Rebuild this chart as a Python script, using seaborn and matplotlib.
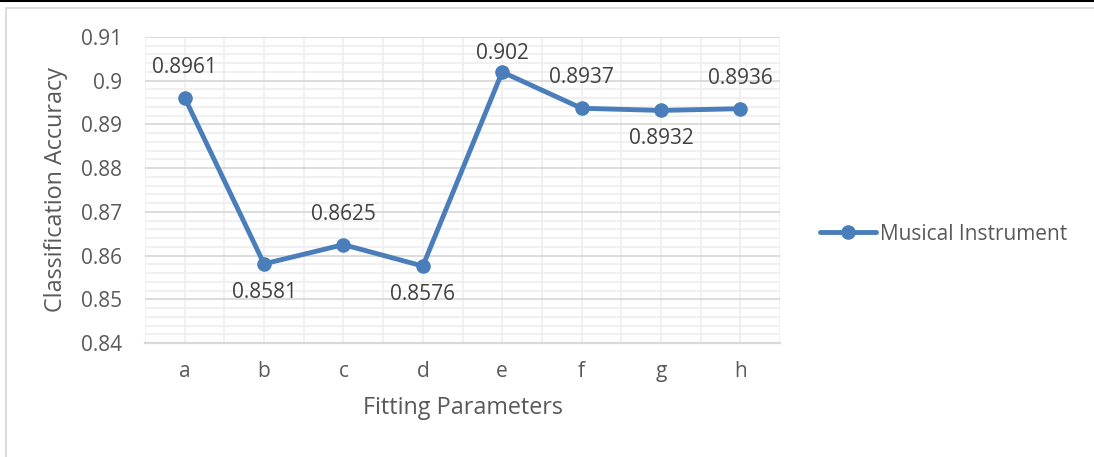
import matplotlib
matplotlib.use("Agg")
import matplotlib.pyplot as plt
import seaborn as sns
import pandas as pd
from matplotlib.lines import Line2D
from matplotlib.ticker import MultipleLocator

# Classification accuracy for each fitting-parameter setting
params = ["a", "b", "c", "d", "e", "f", "g", "h"]
accuracy = [0.8961, 0.8581, 0.8625, 0.8576, 0.902, 0.8937, 0.8932, 0.8936]
series_name = "Musical Instrument"

# where each value label sits relative to its point
label_side = ["above", "below", "above", "below", "above", "above", "below", "above"]

df = pd.DataFrame({"param": params, "accuracy": accuracy, "series": series_name})

sns.set_theme(style="white")
plt.rcParams["font.family"] = ["Open Sans", "DejaVu Sans"]

LINE_COLOR = "#4a7ebb"
TEXT_COLOR = "#595959"
FS = 15

fig = plt.figure(figsize=(10.94, 4.57), dpi=100)
ax = fig.add_axes([145 / 1094, 1 - 343 / 457, 635 / 1094, 306 / 457])

sns.lineplot(data=df, x="param", y="accuracy", ax=ax, color=LINE_COLOR,
             linewidth=3.5, marker="o", markersize=10.5, markeredgewidth=0,
             legend=False, sort=False, zorder=3)

ax.set_xlim(-0.5, len(params) - 0.5)
ax.set_ylim(0.84, 0.91)
ax.yaxis.set_major_locator(MultipleLocator(0.01))
ax.yaxis.set_minor_locator(MultipleLocator(0.002))
ax.xaxis.set_minor_locator(MultipleLocator(0.5))
ax.set_yticks([0.84, 0.85, 0.86, 0.87, 0.88, 0.89, 0.9, 0.91])
ax.set_yticklabels(["0.84", "0.85", "0.86", "0.87", "0.88", "0.89", "0.9", "0.91"])

# Excel-style gridlines
ax.grid(which="minor", axis="both", color="#efefef", linewidth=1.3, zorder=0)
ax.grid(which="major", axis="y", color="#d9d9d9", linewidth=1.3, zorder=1)
ax.grid(which="major", axis="x", color="#efefef", linewidth=1.3, zorder=0)
ax.set_axisbelow(True)

for side in ["top", "right", "left"]:
    ax.spines[side].set_visible(False)
ax.spines["bottom"].set_color("#d9d9d9")
ax.spines["bottom"].set_linewidth(1.6)

ax.tick_params(axis="both", which="both", length=0, labelsize=FS,
               labelcolor=TEXT_COLOR)
ax.tick_params(axis="y", pad=16.5)
ax.tick_params(axis="x", pad=13)

ax.set_xlabel("Fitting Parameters", fontsize=16.8, color=TEXT_COLOR, labelpad=10)
ax.set_ylabel("Classification Accuracy", fontsize=16.8, color=TEXT_COLOR, labelpad=9)

# value labels
for i, (val, side) in enumerate(zip(accuracy, label_side)):
    if side == "above":
        dy = 13.5 if val >= 0.9 else 22
    else:
        dy = -20.5
    ax.annotate(f"{val:g}", (i, val), xytext=(0, dy), textcoords="offset points",
                ha="center", va="center", fontsize=FS, color="#404040")

# legend
handle = Line2D([0], [0], color=LINE_COLOR, linewidth=3.5, marker="o",
                markersize=10.5, markeredgewidth=0)
fig.legend([handle], [series_name], loc="center left",
           bbox_to_anchor=(810 / 1094, 1 - 234 / 457), frameon=False,
           fontsize=FS, labelcolor=TEXT_COLOR, handlelength=2.65,
           handletextpad=0.2, borderpad=0)

# chart border and top rule
fig.add_artist(Line2D([6 / 1094, 6 / 1094], [0, 1 - 8 / 457],
                      transform=fig.transFigure, color="#d9d9d9", linewidth=1.3))
fig.add_artist(Line2D([6 / 1094, 1], [1 - 8 / 457, 1 - 8 / 457],
                      transform=fig.transFigure, color="#d9d9d9", linewidth=1.3))
fig.add_artist(Line2D([0, 1], [1 - 0.8 / 457, 1 - 0.8 / 457],
                      transform=fig.transFigure, color="black", linewidth=1.5))

fig.savefig("out.png", dpi=100, facecolor="white")
